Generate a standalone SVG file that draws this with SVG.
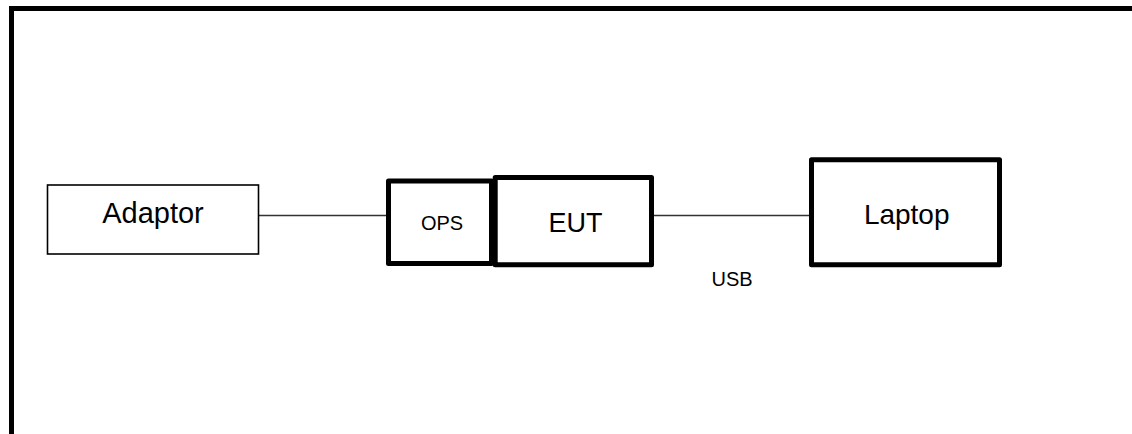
<svg xmlns="http://www.w3.org/2000/svg" width="1132" height="434" viewBox="0 0 1132 434">
<style>
.thin{fill:#fff;stroke:#000;stroke-width:1.6}
.thick{fill:#fff;stroke:#000;stroke-width:5;stroke-linejoin:round}
.wire{stroke:#333;stroke-width:1.4;fill:none}
text{font-family:"Liberation Sans",Arial,sans-serif;fill:#000;text-anchor:middle}
</style>
<rect width="1132" height="434" fill="#fff"/>
<g id="frame"><path d="M11.5,434 V8.5 H1132" fill="none" stroke="#000" stroke-width="5"/></g>
<g id="connectors">
<line class="wire" x1="259" y1="215.5" x2="386" y2="215.5"/>
<line class="wire" x1="654" y1="215.5" x2="809" y2="215.5"/>
</g>
<g id="adaptor"><rect class="thin" x="47.5" y="185" width="211" height="69"/><text x="153" y="223" font-size="29">Adaptor</text></g>
<g id="ops"><rect class="thick" x="388.5" y="181" width="103" height="82.5"/><text x="442" y="230" font-size="20">OPS</text></g>
<g id="eut"><rect class="thick" x="495.2" y="177.5" width="156.3" height="87.3"/><text x="575.5" y="232" font-size="27">EUT</text></g>
<g id="laptop"><rect class="thick" x="811.5" y="159.8" width="188" height="105"/><text x="906.7" y="223.5" font-size="28">Laptop</text></g>
<g id="usb-label"><text x="732" y="286" font-size="20">USB</text></g>
</svg>
